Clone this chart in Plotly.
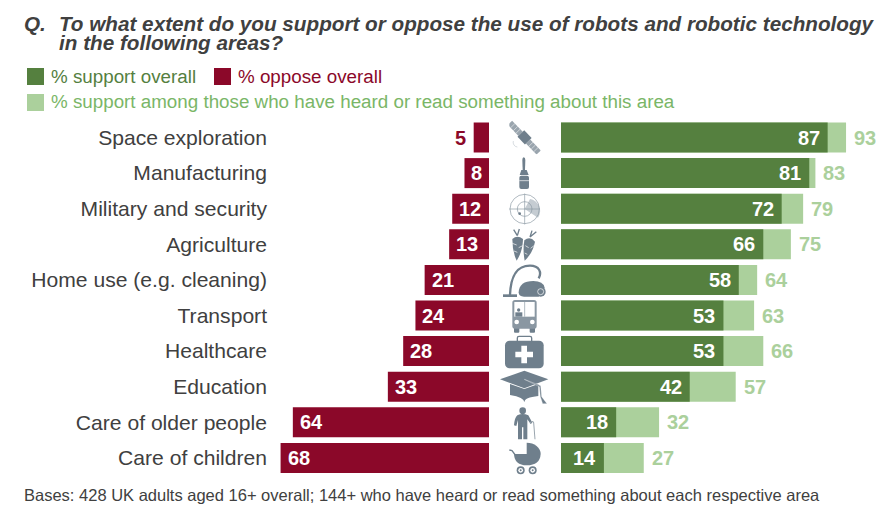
import base64
import plotly.graph_objects as go

categories = ["Space exploration", "Manufacturing", "Military and security", "Agriculture",
              "Home use (e.g. cleaning)", "Transport", "Healthcare", "Education",
              "Care of older people", "Care of children"]
oppose = [5, 8, 12, 13, 21, 24, 28, 33, 64, 68]
support = [87, 81, 72, 66, 58, 53, 53, 42, 18, 14]
support_aware = [93, 83, 79, 75, 64, 63, 66, 57, 32, 27]

RED, GREEN, LIGHT = "#8B0829", "#55803F", "#ABD09C"
LEGEND_LIGHT = "#7AB667"
DARK = "#404040"
W, H = 876, 505
PX_PER_UNIT = 3.065
ROW, FIRST = 35.6, 137.5
FONT = "Liberation Sans, Arial, sans-serif"
IC = "#6F7F8C"


def px(x): return x / W
def py(y): return 1 - y / H


ICONS = [
    ("88 16 94 102", f'''<g transform="translate(133 68) rotate(46)"><rect x="-62" y="-9" width="46" height="18" fill="#9aa5ae"/><rect x="16" y="-9" width="46" height="18" fill="#9aa5ae"/>
<path d="M-50 -9V9M-38 -9V9M-27 -9V9M28 -9V9M39 -9V9M50 -9V9" stroke="#fff" stroke-width="1.5"/>
<rect x="-16" y="-15" width="32" height="28" fill="{IC}"/></g>
<path d="M100 78A14 14 0 0 0 112 96" stroke="#c4cbd1" stroke-width="2" fill="none"/>'''),
    ("112 122 42 104", f'''<path d="M127 135Q127 127 131 127Q136 127 136 135L135 165H128Z" fill="{IC}"/>
<path d="M124 165H140L146 180H119Z" fill="{IC}"/><rect x="118" y="182" width="29" height="40" rx="6" fill="{IC}"/>
<path d="M118 197H147" stroke="#fff" stroke-width="2"/>'''),
    ("84 232 100 100", f'''<path d="M134 282L150 252A36 36 0 0 1 174 308Z" fill="#c5ccd2"/>
<g fill="none" stroke="#8a97a2" stroke-width="2"><circle cx="134" cy="282" r="44"/><circle cx="134" cy="282" r="22"/><path d="M88 282H180M134 236V328"/></g>
<circle cx="119" cy="296" r="4" fill="{IC}"/>'''),
    ("90 340 84 100", f'''<path d="M97 372Q112 358 129 372Q128 410 110 437Q97 410 97 372Z" fill="{IC}"/>
<path d="M133 376Q150 362 165 380Q158 415 134 437Q128 405 133 376Z" fill="{IC}"/>
<path d="M112 362L101 344M112 362L118 342M150 366L156 347M150 366L169 350" stroke="{IC}" stroke-width="4" fill="none"/>
<path d="M97 385L110 390M128 392L116 398M102 408L112 412M136 392L146 398M162 392L152 400M134 414L142 418" stroke="#fff" stroke-width="2" fill="none"/>'''),
    ("66 445 134 102", f'''<path d="M90 540C92 490 105 452 150 452C178 452 186 472 176 490" fill="none" stroke="{IC}" stroke-width="7"/>
<rect x="69" y="538" width="42" height="8" fill="{IC}"/>
<path d="M116 532Q118 498 160 498Q190 498 194 518L176 545H132Q116 545 116 532Z" fill="{IC}"/>
<circle cx="182" cy="530" r="15" fill="{IC}"/><circle cx="182" cy="530" r="9" fill="none" stroke="#fff" stroke-width="2"/>'''),
    ("94 0 78 100", f'''<rect x="102" y="82" width="16" height="16" rx="3" fill="{IC}"/><rect x="149" y="82" width="16" height="16" rx="3" fill="{IC}"/>
<rect x="97" y="0" width="73" height="86" rx="8" fill="#8a97a2"/><rect x="103" y="6" width="61" height="44" fill="#fff"/>
<path d="M134 6V50" stroke="#8a97a2" stroke-width="2"/><circle cx="116" cy="30" r="5" fill="{IC}"/><rect x="106" y="37" width="21" height="13" fill="{IC}"/>
<circle cx="110" cy="66" r="7" fill="#fff"/><circle cx="157" cy="66" r="7" fill="#fff"/>'''),
    ("72 104 122 104", f'''<path d="M112 124V114Q112 109 117 109H150Q155 109 155 114V124" fill="none" stroke="{IC}" stroke-width="4"/>
<rect x="75" y="122" width="116" height="83" rx="14" fill="{IC}"/>
<path d="M124 137H141V155H159V172H141V190H124V172H106V155H124Z" fill="#fff"/>'''),
    ("58 210 150 102", f'''<path d="M90 252L133 267L175 252V288Q133 292 133 307Q133 292 90 285Z" fill="{IC}"/>
<path d="M60 238L133 212L205 238L133 265Z" fill="{IC}"/>
<path d="M133 238L182 257L185 290L201 311L188 311L181 290L178 260Z" fill="{IC}" stroke="#fff" stroke-width="1"/>'''),
    ("100 320 72 100", f'''<circle cx="128" cy="332" r="10" fill="{IC}"/>
<path d="M112 346Q128 338 145 346L157 368L152 372L142 358V418H130V382H126V418H114V360L109 378L102 376Q104 352 112 346Z" fill="{IC}"/>
<path d="M150 370Q157 360 161 368L165 418" fill="none" stroke="#9aa5ae" stroke-width="3"/>'''),
    ("84 424 102 104", f'''<path d="M140 462V428A42 34 0 0 1 182 462Z" fill="{IC}"/>
<path d="M102 462H182Q180 496 140 496Q104 496 102 462Z" fill="{IC}"/>
<path d="M88 450L96 452L108 468" fill="none" stroke="{IC}" stroke-width="4"/>
<circle cx="122" cy="511" r="12" fill="{IC}"/><circle cx="122" cy="511" r="7" fill="#fff"/><circle cx="122" cy="511" r="3" fill="{IC}"/>
<circle cx="158" cy="511" r="12" fill="{IC}"/><circle cx="158" cy="511" r="7" fill="#fff"/><circle cx="158" cy="511" r="3" fill="{IC}"/>'''),
]
ICON_BASE = [115, 115, 115, 115, 115, 300, 300, 300, 300, 300]

images = []
for (vb, body), base in zip(ICONS, ICON_BASE):
    vx, vy, vw, vh = [float(v) for v in vb.split()]
    svg = (f'<svg xmlns="http://www.w3.org/2000/svg" viewBox="{vb}" '
           f'width="{vw * 3:.0f}" height="{vh * 3:.0f}">{body}</svg>')
    uri = "data:image/svg+xml;base64," + base64.b64encode(svg.encode()).decode()
    images.append(dict(source=uri, xref="paper", yref="paper", x=px(480 + vx / 3), y=py(base + vy / 3),
                       sizex=vw / 3 / W, sizey=vh / 3 / H, xanchor="left", yanchor="top",
                       sizing="stretch", layer="above"))

bar_w = 30 / ROW
fig = go.Figure()
fig.add_bar(y=categories, x=oppose, orientation="h", xaxis="x", yaxis="y", marker_color=RED,
            marker_line_width=0, width=bar_w, name="% oppose overall")
fig.add_bar(y=categories, x=support_aware, orientation="h", xaxis="x2", yaxis="y", marker_color=LIGHT,
            marker_line_width=0, width=bar_w, name="% support among those who have heard or read something about this area")
fig.add_bar(y=categories, x=support, orientation="h", xaxis="x2", yaxis="y", marker_color=GREEN,
            marker_line_width=0, width=bar_w, name="% support overall")

ann = []


def text(x, y, s, size, color, bold=False, italic=False, anchor="left"):
    if bold:
        s = f"<b>{s}</b>"
    if italic:
        s = f"<i>{s}</i>"
    ann.append(dict(x=px(x), y=py(y), xref="paper", yref="paper", text=s, showarrow=False, xanchor=anchor,
                    yanchor="middle", font=dict(size=size, color=color, family=FONT), borderpad=0))


text(23, 23, "Q.", 20.7, DARK, True, True)
text(58, 23, "To what extent do you support or oppose the use of robots and robotic technology", 20.7, DARK, True, True)
text(58, 43, "in the following areas?", 20.7, DARK, True, True)
text(50, 76, "% support overall", 18.8, GREEN)
text(237, 76, "% oppose overall", 18.8, RED)
text(50, 102, "% support among those who have heard or read something about this area", 18.8, LEGEND_LIGHT)
text(23, 495, "Bases: 428 UK adults aged 16+ overall; 144+ who have heard or read something about each respective area", 16.5, DARK)

VAL = 20
for c, o, s, a in zip(categories, oppose, support, support_aware):
    outside = o < 8
    ann.append(dict(x=o, y=c, xref="x", yref="y", showarrow=False, text=f"<b>{o}</b>",
                    xanchor="right" if outside else "left", xshift=-6 if outside else 5,
                    font=dict(size=VAL, family=FONT, color=RED if outside else "#FFFFFF")))
    ann.append(dict(x=s, y=c, xref="x2", yref="y", showarrow=False, text=f"<b>{s}</b>", xanchor="right", xshift=-6,
                    font=dict(size=VAL, family=FONT, color="#FFFFFF")))
    ann.append(dict(x=a, y=c, xref="x2", yref="y", showarrow=False, text=f"<b>{a}</b>", xanchor="left", xshift=6,
                    font=dict(size=VAL, family=FONT, color=LIGHT)))

shapes = [dict(type="rect", xref="paper", yref="paper", x0=px(x), x1=px(x + 17), y0=py(y), y1=py(y + 17),
               fillcolor=col, line_width=0)
          for x, y, col in [(27, 68, GREEN), (214, 68, RED), (27, 94, LIGHT)]]

fig.update_layout(
    width=W, height=H, margin=dict(l=0, r=0, t=0, b=0), paper_bgcolor="white", plot_bgcolor="white",
    barmode="overlay", showlegend=False, annotations=ann, shapes=shapes, images=images,
    xaxis=dict(domain=[px(270), px(489)], range=[219 / PX_PER_UNIT, 0], visible=False, anchor="y"),
    xaxis2=dict(domain=[px(561), 1], range=[0, 315 / PX_PER_UNIT], visible=False, anchor="y"),
    yaxis=dict(domain=[0, 1], type="category", categoryorder="array", categoryarray=categories,
               range=[(H - FIRST) / ROW, -FIRST / ROW], anchor="free", position=px(267),
               showgrid=False, zeroline=False, showline=False, ticks="",
               tickfont=dict(size=21.1, color=DARK, family=FONT)),
)
fig.write_html("out.html", config=dict(displayModeBar=False),
               post_script="document.body.style.margin='0';document.documentElement.style.overflow='hidden';")
